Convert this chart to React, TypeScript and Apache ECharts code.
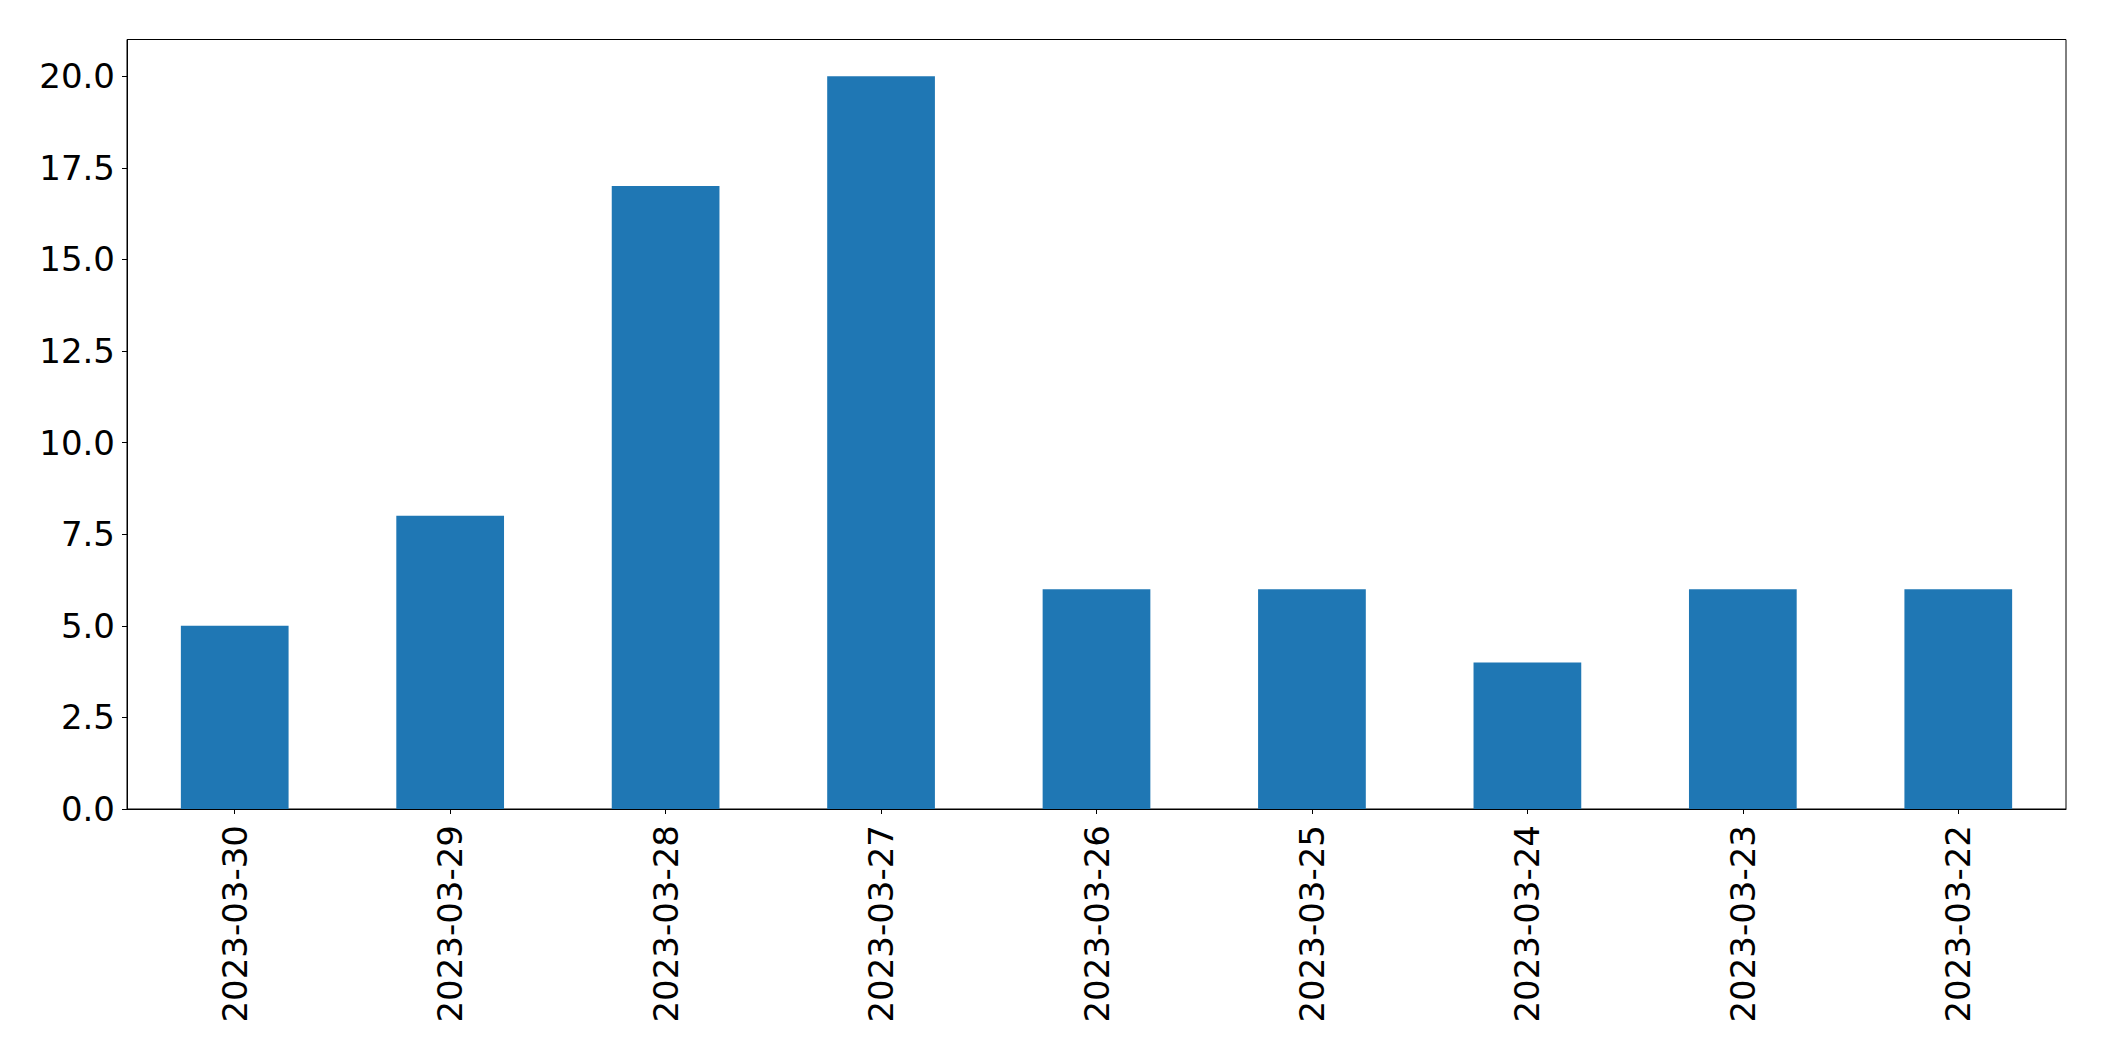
import React, { useEffect, useRef } from "react";
import * as echarts from "echarts";

const categories = [
  "2023-03-30",
  "2023-03-29",
  "2023-03-28",
  "2023-03-27",
  "2023-03-26",
  "2023-03-25",
  "2023-03-24",
  "2023-03-23",
  "2023-03-22",
];
const values = [5, 8, 17, 20, 6, 6, 4, 6, 6];
const yTicks = [0, 2.5, 5, 7.5, 10, 12.5, 15, 17.5, 20];

const FONT = "DejaVu Sans";

export default function App() {
  const ref = useRef<HTMLDivElement>(null);
  useEffect(() => {
    if (!ref.current) return;
    const chart = echarts.init(ref.current, undefined, { renderer: "svg" });
    chart.setOption({
      animation: false,
      backgroundColor: "#ffffff",
      grid: {
        left: 127,
        right: 38,
        top: 39.5,
        bottom: 252,
        show: true,
        borderColor: "#000000",
        borderWidth: 1,
        backgroundColor: "transparent",
      },
      xAxis: {
        type: "category",
        data: categories,
        axisLine: { show: true, lineStyle: { color: "#000000", width: 1 } },
        axisTick: {
          show: true,
          alignWithLabel: true,
          length: 5,
          lineStyle: { color: "#000000", width: 1 },
        },
        axisLabel: {
          rotate: 90,
          fontSize: 34,
          fontFamily: FONT,
          color: "#000000",
          margin: 16,
        },
        splitLine: { show: false },
      },
      yAxis: {
        type: "value",
        min: 0,
        max: 21,
        interval: 2.5,
        axisLine: { show: true, lineStyle: { color: "#000000", width: 1 } },
        axisTick: {
          show: true,
          length: 5,
          customValues: yTicks,
          lineStyle: { color: "#000000", width: 1 },
        },
        axisLabel: {
          customValues: yTicks,
          fontSize: 34,
          fontFamily: FONT,
          color: "#000000",
          margin: 12,
          formatter: (v: number) => v.toFixed(1),
        },
        splitLine: { show: false },
      },
      series: [
        {
          type: "bar",
          data: values,
          barWidth: "50%",
          itemStyle: { color: "#1f77b4" },
        },
      ],
    });
    return () => chart.dispose();
  }, []);
  return (
    <div
      ref={ref}
      style={{ position: "fixed", left: 0, top: 0, width: 2104, height: 1061 }}
    />
  );
}
